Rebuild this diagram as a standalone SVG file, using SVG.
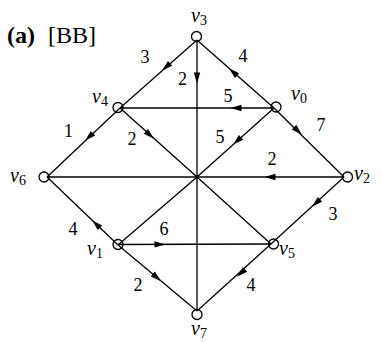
<svg xmlns="http://www.w3.org/2000/svg" width="382" height="342" viewBox="0 0 382 342">
<style>
.e{stroke:#000;stroke-width:1.3;fill:none}
.n{stroke:#000;stroke-width:1.3;fill:none}
</style>
<defs>
<path id="ah" d="M5.5,0 L-5.5,-3.2 L-5.5,3.2 Z" fill="#000"/>
</defs>
<rect width="382" height="342" fill="#fff"/>
<g id="title">
<text x="7" y="42.5" style="font-family:'Liberation Serif','Times New Roman',serif;font-size:24px;font-weight:bold;fill:#000">(a)</text>
<text x="48" y="42.5" style="font-family:'Liberation Serif','Times New Roman',serif;font-size:24px;fill:#000">[BB]</text>
</g>
<g id="connectors">
<line class="e" x1="197" y1="40" x2="120" y2="108"/>
<line class="e" x1="197" y1="40" x2="197" y2="311"/>
<line class="e" x1="274" y1="108" x2="197" y2="40"/>
<line class="e" x1="274" y1="108" x2="120" y2="108"/>
<line class="e" x1="120" y1="108" x2="47" y2="177"/>
<polyline class="e" points="120,108 197,177 271,244"/>
<polyline class="e" points="274,108 197,177 118,245"/>
<line class="e" x1="274" y1="108" x2="344" y2="177"/>
<line class="e" x1="344" y1="177" x2="47" y2="177"/>
<line class="e" x1="344" y1="177" x2="271" y2="244"/>
<line class="e" x1="118" y1="245" x2="47" y2="177"/>
<line class="e" x1="118" y1="244.5" x2="271" y2="244"/>
<line class="e" x1="118" y1="245" x2="197" y2="311"/>
<line class="e" x1="271" y1="244" x2="197" y2="311"/>
<circle cx="197" cy="177" r="2" fill="#000"/>
<use href="#ah" transform="translate(166,67) rotate(138.6)"/>
<use href="#ah" transform="translate(197,78) rotate(90)"/>
<use href="#ah" transform="translate(233,72) rotate(221.4)"/>
<use href="#ah" transform="translate(236,108) rotate(180)"/>
<use href="#ah" transform="translate(89,137) rotate(136.6)"/>
<use href="#ah" transform="translate(150,135) rotate(41.9)"/>
<use href="#ah" transform="translate(237,141) rotate(138.1)"/>
<use href="#ah" transform="translate(298,131) rotate(44.6)"/>
<use href="#ah" transform="translate(270,177) rotate(180)"/>
<use href="#ah" transform="translate(316,203) rotate(137.5)"/>
<use href="#ah" transform="translate(96,224) rotate(223.8)"/>
<use href="#ah" transform="translate(160,244.4) rotate(0)"/>
<use href="#ah" transform="translate(157,277.6) rotate(39.9)"/>
<use href="#ah" transform="translate(241,273) rotate(137.8)"/>
</g>
<g id="edge-labels">
<text x="145" y="63" style="font-family:'Liberation Serif','Times New Roman',serif;font-size:18px;text-anchor:middle;fill:#000">3</text>
<text x="182.5" y="85" style="font-family:'Liberation Serif','Times New Roman',serif;font-size:18px;text-anchor:middle;fill:#000">2</text>
<text x="243" y="62" style="font-family:'Liberation Serif','Times New Roman',serif;font-size:18px;text-anchor:middle;fill:#000">4</text>
<text x="228" y="102" style="font-family:'Liberation Serif','Times New Roman',serif;font-size:18px;text-anchor:middle;fill:#000">5</text>
<text x="68.5" y="137" style="font-family:'Liberation Serif','Times New Roman',serif;font-size:18px;text-anchor:middle;fill:#000">1</text>
<text x="132" y="145" style="font-family:'Liberation Serif','Times New Roman',serif;font-size:18px;text-anchor:middle;fill:#000">2</text>
<text x="220" y="143" style="font-family:'Liberation Serif','Times New Roman',serif;font-size:18px;text-anchor:middle;fill:#000">5</text>
<text x="321" y="131" style="font-family:'Liberation Serif','Times New Roman',serif;font-size:18px;text-anchor:middle;fill:#000">7</text>
<text x="272" y="165" style="font-family:'Liberation Serif','Times New Roman',serif;font-size:18px;text-anchor:middle;fill:#000">2</text>
<text x="333" y="220" style="font-family:'Liberation Serif','Times New Roman',serif;font-size:18px;text-anchor:middle;fill:#000">3</text>
<text x="73" y="235" style="font-family:'Liberation Serif','Times New Roman',serif;font-size:18px;text-anchor:middle;fill:#000">4</text>
<text x="164" y="235" style="font-family:'Liberation Serif','Times New Roman',serif;font-size:18px;text-anchor:middle;fill:#000">6</text>
<text x="138" y="291" style="font-family:'Liberation Serif','Times New Roman',serif;font-size:18px;text-anchor:middle;fill:#000">2</text>
<text x="251" y="291" style="font-family:'Liberation Serif','Times New Roman',serif;font-size:18px;text-anchor:middle;fill:#000">4</text>
</g>
<g id="nodes">
<g id="v0"><circle class="n" cx="276" cy="107" r="5"/><text x="291" y="100" style="font-family:'Liberation Serif','Times New Roman',serif;font-size:20px;font-style:italic;fill:#000">v<tspan dy="3" style="font-style:normal;font-size:14px">0</tspan></text></g>
<g id="v1"><circle class="n" cx="118" cy="244.5" r="5"/><text x="87" y="255" style="font-family:'Liberation Serif','Times New Roman',serif;font-size:20px;font-style:italic;fill:#000">v<tspan dy="3" style="font-style:normal;font-size:14px">1</tspan></text></g>
<g id="v2"><circle class="n" cx="347.5" cy="177" r="5"/><text x="354" y="180" style="font-family:'Liberation Serif','Times New Roman',serif;font-size:20px;font-style:italic;fill:#000">v<tspan dy="3" style="font-style:normal;font-size:14px">2</tspan></text></g>
<g id="v3"><circle class="n" cx="196.5" cy="36.5" r="5"/><text x="191" y="22" style="font-family:'Liberation Serif','Times New Roman',serif;font-size:20px;font-style:italic;fill:#000">v<tspan dy="3" style="font-style:normal;font-size:14px">3</tspan></text></g>
<g id="v4"><circle class="n" cx="118" cy="107.5" r="5"/><text x="92" y="103" style="font-family:'Liberation Serif','Times New Roman',serif;font-size:20px;font-style:italic;fill:#000">v<tspan dy="3" style="font-style:normal;font-size:14px">4</tspan></text></g>
<g id="v5"><circle class="n" cx="273.5" cy="244" r="5"/><text x="279" y="255" style="font-family:'Liberation Serif','Times New Roman',serif;font-size:20px;font-style:italic;fill:#000">v<tspan dy="3" style="font-style:normal;font-size:14px">5</tspan></text></g>
<g id="v6"><circle class="n" cx="44" cy="177" r="5"/><text x="10" y="182" style="font-family:'Liberation Serif','Times New Roman',serif;font-size:20px;font-style:italic;fill:#000">v<tspan dy="3" style="font-style:normal;font-size:14px">6</tspan></text></g>
<g id="v7"><circle class="n" cx="197" cy="314.5" r="5"/><text x="191" y="335" style="font-family:'Liberation Serif','Times New Roman',serif;font-size:20px;font-style:italic;fill:#000">v<tspan dy="3" style="font-style:normal;font-size:14px">7</tspan></text></g>
</g>
</svg>
